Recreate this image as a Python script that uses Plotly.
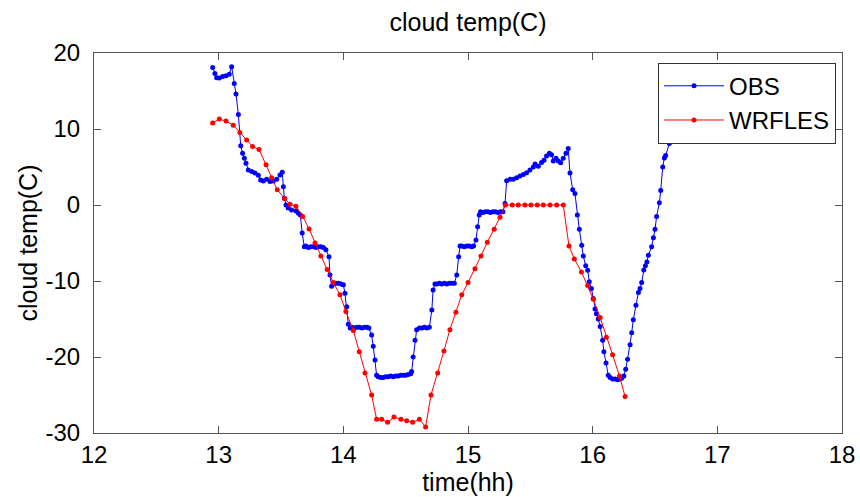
import plotly.graph_objects as go

# OBS series (time in hours, cloud temperature in C)
obs_time = [
    12.952, 12.970, 12.984, 13.005, 13.032, 13.059, 13.085, 13.104, 13.125, 13.139,
    13.158, 13.177, 13.192, 13.206, 13.219, 13.238, 13.265, 13.291, 13.318, 13.337,
    13.358, 13.385, 13.412, 13.438, 13.465, 13.492, 13.510, 13.519, 13.527, 13.540,
    13.558, 13.585, 13.620, 13.640, 13.655, 13.670, 13.687, 13.700, 13.720, 13.740,
    13.760, 13.780, 13.800, 13.820, 13.840, 13.860, 13.885, 13.893, 13.906, 13.920,
    13.940, 13.960, 13.980, 14.000, 14.013, 14.027, 14.040, 14.055, 14.070, 14.090,
    14.110, 14.130, 14.150, 14.170, 14.190, 14.205, 14.227, 14.240, 14.254, 14.267,
    14.280, 14.300, 14.320, 14.340, 14.360, 14.380, 14.400, 14.420, 14.440, 14.460,
    14.480, 14.500, 14.520, 14.540, 14.548, 14.560, 14.575, 14.588, 14.610, 14.630,
    14.650, 14.670, 14.690, 14.710, 14.720, 14.735, 14.750, 14.770, 14.790, 14.810,
    14.830, 14.850, 14.870, 14.890, 14.910, 14.925, 14.936, 14.950, 14.970, 14.990,
    15.010, 15.030, 15.045, 15.064, 15.077, 15.090, 15.100, 15.120, 15.140, 15.160,
    15.180, 15.200, 15.220, 15.240, 15.260, 15.280, 15.297, 15.310, 15.337, 15.363,
    15.390, 15.417, 15.444, 15.470, 15.497, 15.524, 15.538, 15.564, 15.590, 15.610,
    15.630, 15.653, 15.670, 15.684, 15.706, 15.724, 15.743, 15.764, 15.786, 15.804,
    15.818, 15.840, 15.858, 15.877, 15.893, 15.912, 15.925, 15.944, 15.960, 15.973,
    15.990, 16.005, 16.019, 16.030, 16.045, 16.060, 16.080, 16.090, 16.107, 16.125,
    16.140, 16.160, 16.180, 16.200, 16.220, 16.233, 16.250, 16.265, 16.280, 16.300,
    16.313, 16.326, 16.347, 16.367, 16.380, 16.393, 16.410, 16.423, 16.435, 16.447,
    16.473, 16.487, 16.500, 16.513, 16.535, 16.546, 16.562, 16.575, 16.585, 16.615,
    16.640, 16.660,
]
obs_temp = [
    18.1, 17.3, 16.75, 16.7, 16.9, 17.0, 17.2, 18.2, 16.0, 14.6,
    11.9, 7.8, 6.8, 6.15, 5.5, 4.6, 4.4, 4.2, 3.9, 3.3,
    3.15, 3.4, 3.1, 3.15, 3.4, 3.95, 4.3, 2.4, 0.9, 0.0,
    -0.4, -0.66, -0.8, -1.1, -1.3, -3.7, -5.5, -5.4, -5.6, -5.5,
    -5.5, -5.6, -5.5, -5.5, -5.6, -5.9, -6.8, -9.2, -10.7, -10.4,
    -10.3, -10.3, -10.4, -10.5, -11.6, -13.4, -15.7, -16.2, -16.1, -16.2,
    -16.1, -16.1, -16.2, -16.1, -16.1, -16.2, -17.1, -18.6, -20.4, -22.4,
    -22.6, -22.7, -22.7, -22.6, -22.6, -22.5, -22.6, -22.5, -22.5, -22.4,
    -22.4, -22.4, -22.3, -22.2, -21.9, -20.0, -17.8, -16.4, -16.2, -16.2,
    -16.1, -16.2, -16.1, -13.8, -11.2, -10.4, -10.4, -10.3, -10.4, -10.3,
    -10.4, -10.3, -10.3, -10.3, -9.2, -6.8, -5.4, -5.4, -5.5, -5.4,
    -5.4, -5.5, -5.4, -4.6, -2.85, -1.3, -0.9, -1.0, -0.9, -0.9,
    -1.0, -0.9, -0.9, -1.0, -0.9, -0.9, 0.2, 3.2, 3.4, 3.4,
    3.6, 3.8, 4.0, 4.25, 4.6, 5.0, 5.4, 5.1, 5.6, 5.9,
    6.45, 6.8, 6.6, 5.8, 6.15, 5.8, 5.55, 6.15, 6.8, 7.45,
    4.2, 2.0, 1.5, -1.3, -3.2, -5.3, -6.7, -8.0, -8.6, -10.1,
    -11.0, -12.3, -13.7, -14.3, -15.0, -16.0, -17.8, -19.3, -20.8, -22.4,
    -22.7, -22.9, -22.9, -23.0, -22.9, -22.8, -22.5, -21.6, -20.3, -18.4,
    -16.8, -15.1, -13.2, -11.5, -11.0, -10.2, -8.55, -8.0, -7.5, -6.6,
    -5.5, -4.3, -3.2, -1.5, 0.3, 1.9, 5.0, 6.2, 6.5, 8.1,
    9.5, 11.0,
]

# WRFLES series
wrf_time = [
    12.952, 13.005, 13.059, 13.117, 13.170, 13.224, 13.272, 13.324, 13.380, 13.425,
    13.470, 13.530, 13.572, 13.620, 13.674, 13.725, 13.773, 13.820, 13.870, 13.920,
    13.973, 14.020, 14.080, 14.128, 14.174, 14.227, 14.267, 14.307, 14.355, 14.406,
    14.462, 14.508, 14.556, 14.610, 14.660, 14.703, 14.757, 14.807, 14.855, 14.903,
    14.950, 15.000, 15.056, 15.104, 15.155, 15.210, 15.257, 15.300, 15.355, 15.403,
    15.457, 15.505, 15.556, 15.604, 15.658, 15.711, 15.764, 15.810, 15.853, 15.910,
    15.960, 16.005, 16.060, 16.110, 16.160, 16.215, 16.260,
]
wrf_temp = [
    10.8, 11.3, 11.05, 10.5, 9.55, 8.55, 7.7, 7.3, 5.3, 3.6,
    2.0, 0.85, 0.1, -0.15, -1.5, -3.15, -5.0, -6.7, -8.5, -10.2,
    -11.8, -14.0, -16.5, -19.3, -22.1, -25.0, -28.2, -28.2, -28.6, -27.9,
    -28.2, -28.4, -28.6, -28.2, -29.2, -25.0, -22.1, -19.2, -16.4, -14.1,
    -11.8, -10.2, -8.4, -6.7, -4.9, -3.2, -1.6, 0.0, 0.0, 0.0,
    0.0, 0.0, 0.0, 0.0, 0.0, 0.0, 0.0, -5.4, -7.1, -8.8,
    -10.6, -12.4, -14.8, -17.4, -19.7, -22.5, -25.2,
]

x_ticks = [12, 13, 14, 15, 16, 17, 18]
y_ticks = [-30, -20, -10, 0, 10, 20]

FONT = "Liberation Sans, Arial, Helvetica, sans-serif"

fig = go.Figure()
fig.add_trace(go.Scatter(
    x=obs_time, y=obs_temp, mode="lines+markers", name="OBS",
    line=dict(color="#0000FF", width=1),
    marker=dict(color="#0000FF", size=5, symbol="circle"),
))
fig.add_trace(go.Scatter(
    x=wrf_time, y=wrf_temp, mode="lines+markers", name="WRFLES",
    line=dict(color="#FF0000", width=1),
    marker=dict(color="#FF0000", size=5, symbol="circle"),
))

axis_common = dict(
    showline=True, linecolor="#555555", linewidth=1, mirror="ticks",
    ticks="inside", ticklen=7, tickcolor="#555555", tickwidth=1,
    showgrid=False, zeroline=False,
    tickfont=dict(family=FONT, size=24, color="black"),
)

fig.update_layout(
    width=860, height=497,
    margin=dict(l=94, r=18, t=53, b=64, autoexpand=False),
    paper_bgcolor="white", plot_bgcolor="white",
    font=dict(family=FONT, size=25, color="black"),
    title=dict(text="cloud temp(C)", x=0.5, xref="paper", xanchor="center",
               y=1 - 22 / 497, yref="container", yanchor="middle",
               font=dict(family=FONT, size=25, color="black")),
    xaxis=dict(range=[12, 18], tickvals=x_ticks, ticktext=[str(v) for v in x_ticks],
               title=dict(text="time(hh)", standoff=5,
                          font=dict(family=FONT, size=25, color="black")),
               ticklabelstandoff=0, **axis_common),
    yaxis=dict(range=[-30, 20], tickvals=y_ticks, ticktext=[str(v) for v in y_ticks],
               title=dict(text="cloud temp(C)", standoff=0,
                          font=dict(family=FONT, size=25, color="black")),
               ticklabelstandoff=8, **axis_common),
    legend=dict(x=0.992, xanchor="right", y=0.9745, yanchor="top",
                bgcolor="white", bordercolor="#333333", borderwidth=1,
                font=dict(family=FONT, size=24, color="black"),
                itemwidth=60, tracegroupgap=0),
    showlegend=True,
)

fig.write_html("out.html")
